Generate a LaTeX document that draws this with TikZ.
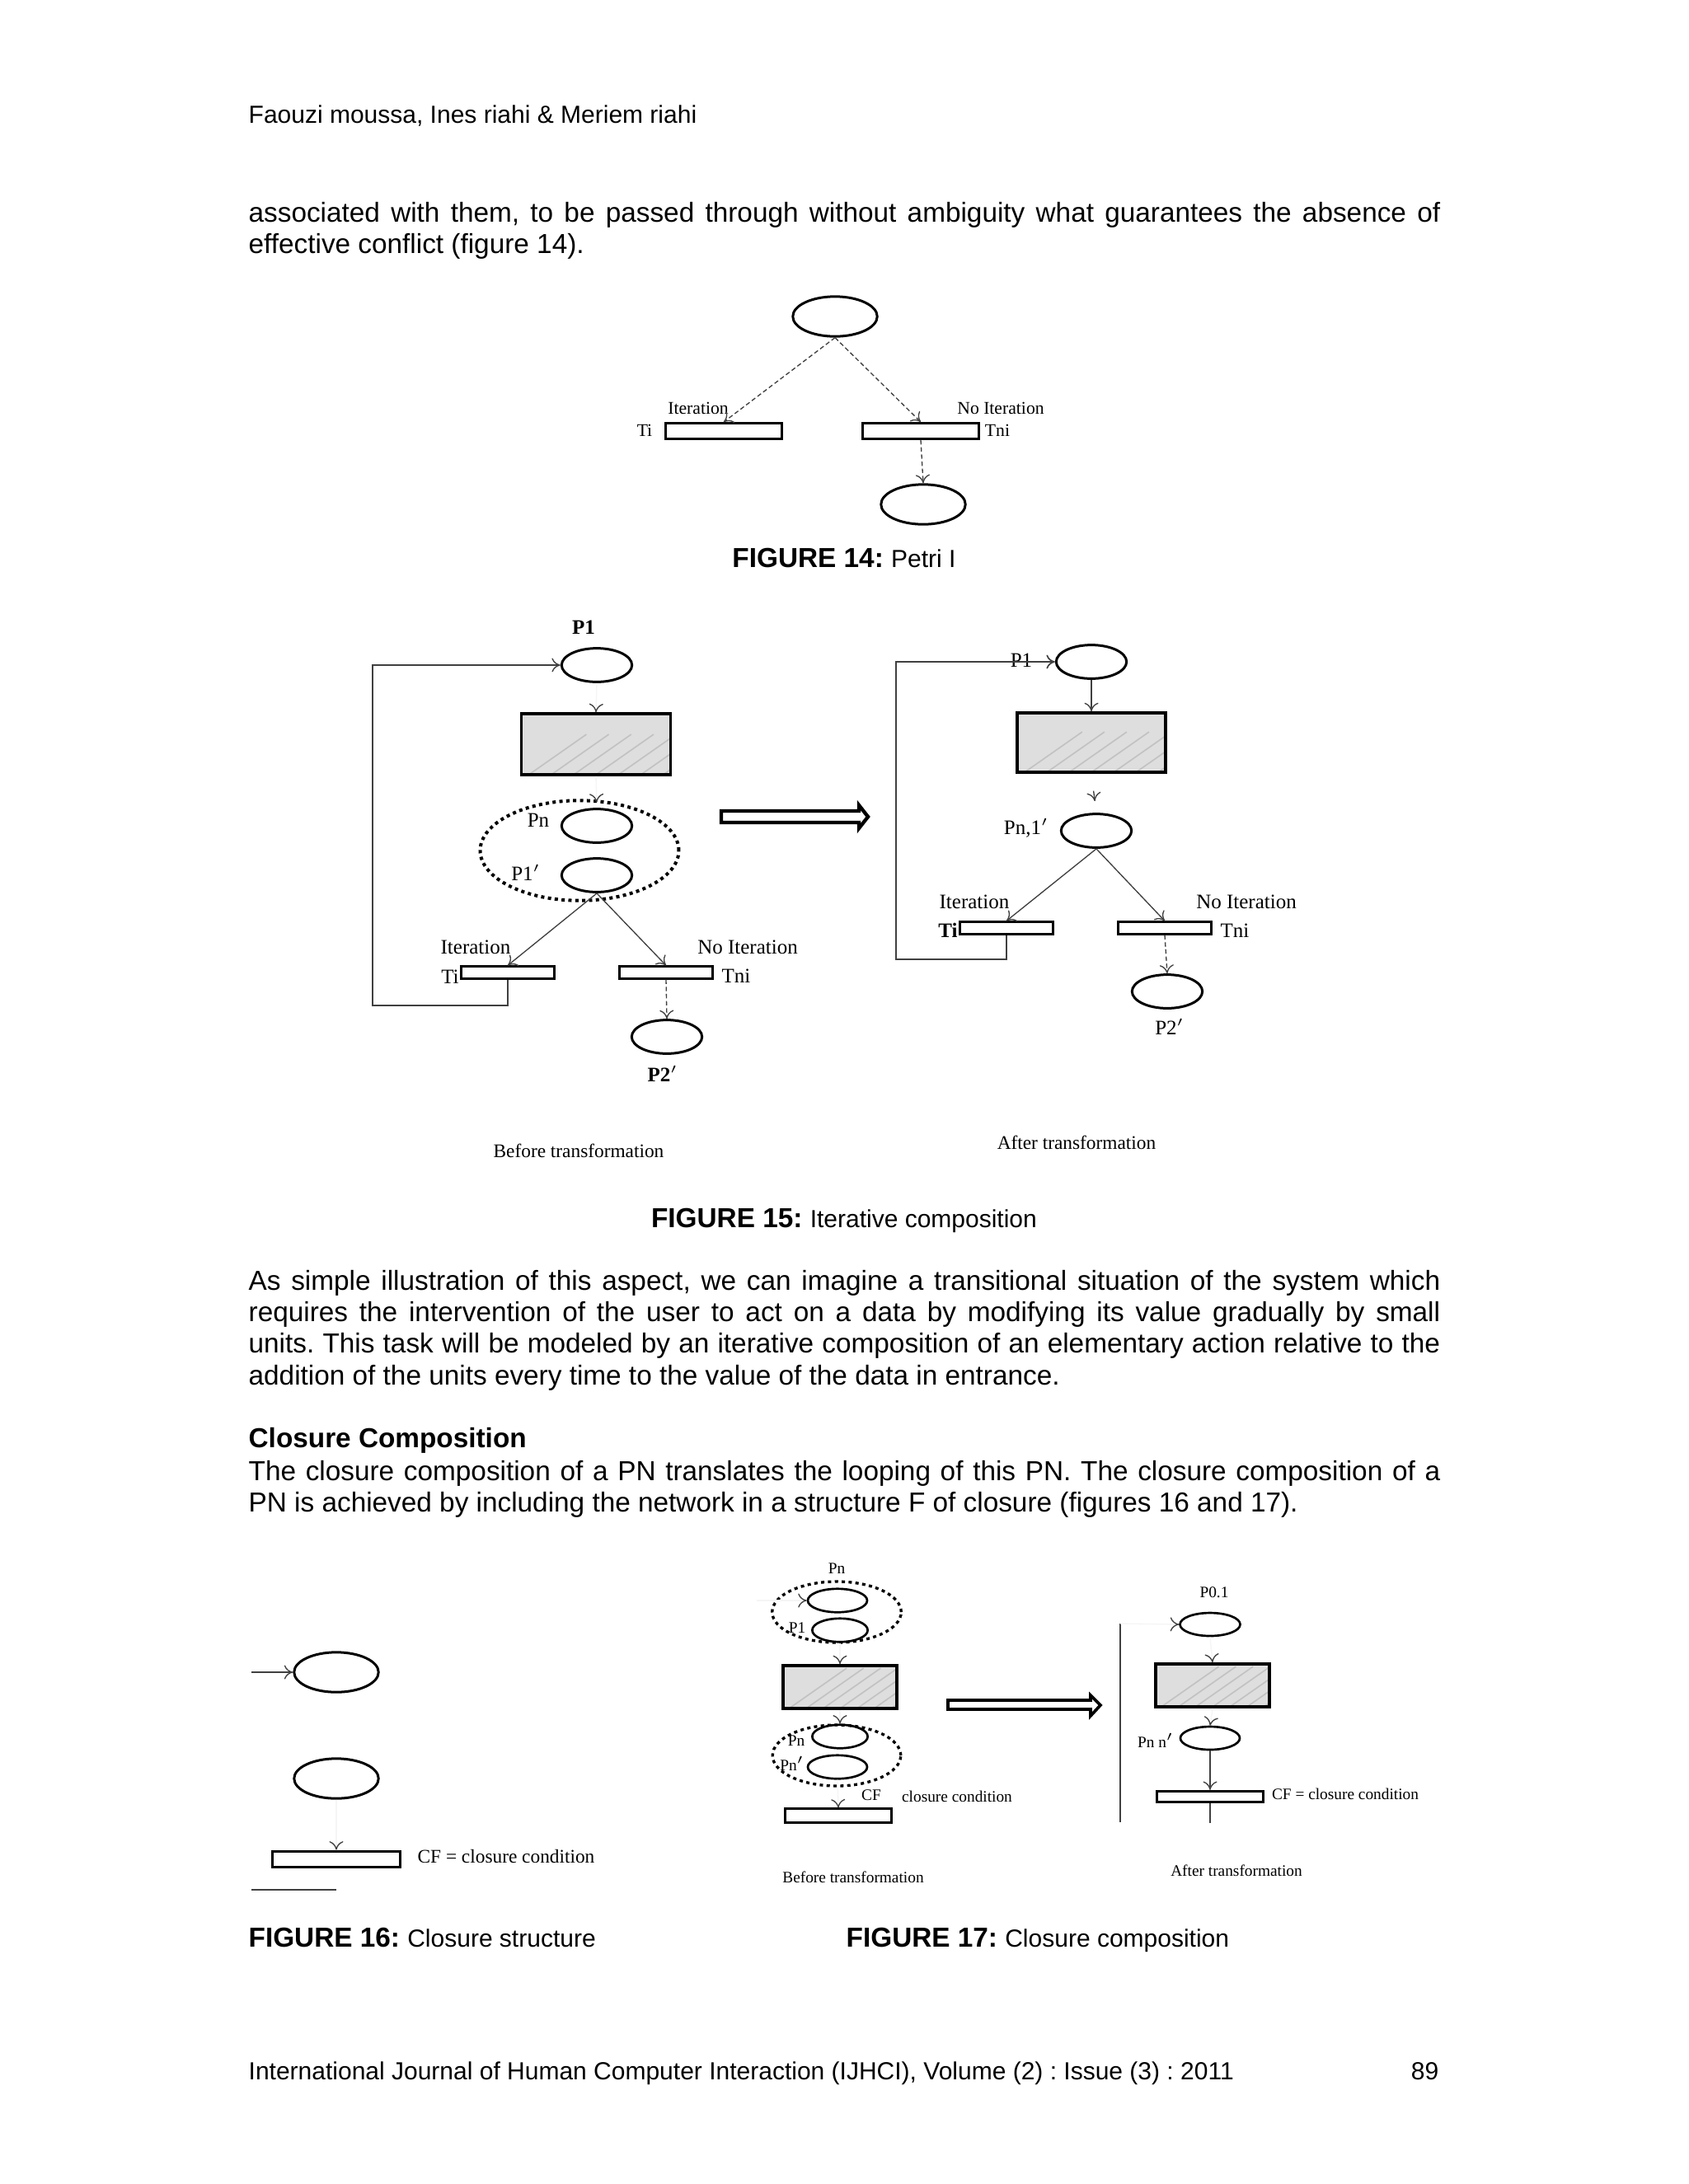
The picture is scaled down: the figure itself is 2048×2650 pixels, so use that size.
\documentclass[tikz,border=0pt]{standalone}
\usepackage{fontspec}
\setmainfont{Liberation Sans}
\newfontfamily\petrifont{Liberation Serif}
\usepackage{tikz}
\usetikzlibrary{arrows.meta,positioning,calc,shapes.geometric}
\frenchspacing
\newcommand{\capdesc}{\fontsize{9}{11}\selectfont}
\tikzset{
  place/.style={draw, ellipse, line width=0.9pt, inner sep=0pt,
                minimum width=9mm, minimum height=4.3mm},
  bigplace/.style={place, minimum width=10.8mm, minimum height=5.1mm},
  smallplace/.style={place, line width=0.8pt, minimum width=7.6mm, minimum height=3mm},
  trans/.style={draw, rectangle, line width=0.9pt, inner sep=0pt, fill=white,
                minimum width=11.9mm, minimum height=1.5mm},
  block/.style={draw, rectangle, line width=1.1pt, inner sep=0pt, fill=black!13,
    path picture={
      \foreach \s in {0.05,0.2,...,0.95}
        \draw[black!24, line width=0.5pt]
          ($(path picture bounding box.south west)!\s!(path picture bounding box.south east)$)
          -- ++(35:9mm);
    }},
  group/.style={draw, ellipse, line width=1.2pt, dash pattern=on 1.2pt off 1.3pt, inner sep=0pt},
  lbl/.style={font=\petrifont\fontsize{7.5}{8}\selectfont, inner sep=0pt},
  smalllbl/.style={lbl, font=\petrifont\fontsize{6.5}{7}\selectfont},
  tinylbl/.style={lbl, font=\petrifont\fontsize{5.8}{6}\selectfont},
  flow/.style={-{To[length=1.1mm,width=1.8mm]}, line width=0.4pt, black!75},
  dflow/.style={flow, dash pattern=on 1.6pt off 1pt},
  ghost/.style={-{To[length=1.1mm,width=1.8mm,color=black!75]}, line width=0.4pt, draw=black!4},
  plain/.style={line width=0.5pt, black!75},
  hollow/.style={line width=1.3pt, fill=white, line join=miter},
  bodytext/.style={anchor=base west, inner sep=0pt, text width=152.4mm, align=justify,
                   font=\fontsize{10}{11.5}\selectfont},
  pagetext/.style={anchor=base west, inner sep=0pt, font=\fontsize{9}{11}\selectfont},
  captext/.style={anchor=base, inner sep=0pt, font=\fontsize{10}{12}\selectfont},
}

\begin{document}
\begin{tikzpicture}[x=0.10542mm, y=-0.10542mm]
  \fill[white] (0,0) rectangle (2048,2650);
  \useasboundingbox (0,0) rectangle (2048,2650);

  % running head and first paragraph
  \node[pagetext] (head) at (301,149) {Faouzi moussa, Ines riahi \& Meriem riahi};
  \node[bodytext] (par1) at (301,269) {associated with them, to be passed through without ambiguity what guarantees the absence of\linebreak effective conflict (figure 14).};

  % figure 14
  \node[bigplace] (f14top) at (1013,384) {};
  \node[trans, minimum width=14.8mm, minimum height=2mm] (f14ti) at (878,523) {};
  \node[trans, minimum width=14.8mm, minimum height=2mm] (f14tni) at (1117,523) {};
  \node[bigplace] (f14end) at (1120,612) {};
  \node[smalllbl] (f14it) at (847,495) {Iteration};
  \node[smalllbl] (f14noit) at (1214,495) {No Iteration};
  \node[smalllbl] (f14tilbl) at (782,522) {Ti};
  \node[smalllbl] (f14tnilbl) at (1210,522) {Tni};
  \draw[dflow] (f14top.south) -- (f14ti.north);
  \draw[dflow] (f14top.south) -- (f14tni.north);
  \draw[dflow] (f14tni.south) -- (f14end.north);
  \node[captext] (cap14) at (1024,688) {\textbf{FIGURE 14:} \capdesc Petri I};

  % figure 15, before
  \node[lbl] (f15p1lbl) at (708,761) {\textbf{P1}};
  \node[place] (f15p1) at (724,807) {};
  \node[block, minimum width=19.1mm, minimum height=7.8mm] (f15blk) at (723,903) {};
  \node[group, minimum width=25.4mm, minimum height=12.8mm] (f15grp) at (703,1032) {};
  \node[place] (f15pn) at (724,1002) {};
  \node[place] (f15p1p) at (724,1062) {};
  \node[lbl] (f15pnlbl) at (653,995) {Pn};
  \node[lbl] (f15p1plbl) at (638,1059) {P1$'$};
  \node[trans] (f15ti) at (616,1180) {};
  \node[trans] (f15tni) at (808,1180) {};
  \node[lbl] (f15it) at (577,1149) {Iteration};
  \node[lbl] (f15noit) at (907,1149) {No Iteration};
  \node[lbl] (f15tilbl) at (546,1185) {Ti};
  \node[lbl] (f15tnilbl) at (893,1184) {Tni};
  \node[place] (f15p2) at (809,1258) {};
  \node[lbl] (f15p2lbl) at (804,1303) {\textbf{P2$'$}};
  \coordinate (f15loop) at (452,1220);
  \draw[ghost] (f15p1.south) -- (f15blk.north);
  \draw[ghost, shorten >=0.7mm] (f15blk.south) -- (f15pn.north);
  \draw[flow] (f15p1p.south) -- (f15ti.north);
  \draw[flow] (f15p1p.south) -- (f15tni.north);
  \draw[dflow] (f15tni.south) -- (f15p2.north);
  \draw[flow] (f15ti.south) |- (f15loop) |- (f15p1.west);
  \node[lbl, font=\petrifont\fontsize{7}{8}\selectfont] (f15before) at (702,1396) {Before transformation};

  % transformation arrow
  \draw[hollow] (875,984) -- (1042,984) -- (1042,977) -- (1053,991) -- (1042,1005) -- (1042,998) -- (875,998) -- cycle;

  % figure 15, after
  \node[lbl] (f15rp1lbl) at (1239,801) {P1};
  \node[place] (f15rp1) at (1324,803) {};
  \node[block, minimum width=19mm, minimum height=7.6mm] (f15rblk) at (1324,901) {};
  \node[place] (f15rpn) at (1330,1008) {};
  \node[lbl] (f15rpnlbl) at (1245,1005) {Pn,1$'$};
  \node[trans] (f15rti) at (1221,1126) {};
  \node[trans] (f15rtni) at (1413,1126) {};
  \node[lbl] (f15rit) at (1182,1094) {Iteration};
  \node[lbl] (f15rnoit) at (1512,1094) {No Iteration};
  \node[lbl] (f15rtilbl) at (1150,1129) {\textbf{Ti}};
  \node[lbl] (f15rtnilbl) at (1498,1129) {Tni};
  \node[place] (f15rp2) at (1416,1203) {};
  \node[lbl] (f15rp2lbl) at (1419,1246) {P2$'$};
  \coordinate (f15rloop) at (1087,1164);
  \draw[flow] (f15rp1.south) -- (f15rblk.north);
  \draw[flow, shorten <=2.2mm, shorten >=1.5mm] (f15rblk.south) -- (f15rpn.north);
  \draw[flow] (f15rpn.south) -- (f15rti.north);
  \draw[flow] (f15rpn.south) -- (f15rtni.north);
  \draw[dflow] (f15rtni.south) -- (f15rp2.north);
  \draw[plain, -{To[length=1.1mm,width=1.8mm]}] (f15rti.south) |- (f15rloop) |- (f15rp1.west);
  \node[lbl, font=\petrifont\fontsize{7}{8}\selectfont] (f15after) at (1306,1386) {After transformation};

  \node[captext] (cap15) at (1024,1489) {\textbf{FIGURE 15:} \capdesc Iterative composition};

  % text between the figures
  \node[bodytext] (par2) at (301,1565) {As simple illustration of this aspect, we can imagine a transitional situation of the system which\linebreak requires the intervention of the user to act on a data by modifying its value gradually by small\linebreak units. This task will be modeled by an iterative composition of an elementary action relative to the\linebreak addition of the units every time to the value of the data in entrance.};
  \node[bodytext] (sect) at (301,1756) {\textbf{Closure Composition}};
  \node[bodytext] (par3) at (301,1796) {The closure composition of a PN translates the looping of this PN. The closure composition of a\linebreak PN is achieved by including the network in a structure F of closure (figures 16 and 17).};

  % figure 16
  \coordinate (f16in) at (305,2029);
  \node[bigplace] (f16p1) at (408,2029) {};
  \node[bigplace] (f16p2) at (408,2158) {};
  \node[trans, minimum width=16.4mm, minimum height=2.1mm] (f16bar) at (408,2256) {};
  \node[lbl, font=\petrifont\fontsize{7}{8}\selectfont] (f16cf) at (614,2252) {CF = closure condition};
  \coordinate (f16outa) at (305,2293);
  \coordinate (f16outb) at (408,2293);
  \draw[flow] (f16in) -- (f16p1.west);
  \draw[ghost] (f16p2.south) -- (f16bar.north);
  \draw[plain] (f16outa) -- (f16outb);

  % figure 17, before
  \node[tinylbl] (f17pnlbl) at (1015,1903) {Pn};
  \node[group, line width=1pt, minimum width=16.5mm, minimum height=7.8mm] (f17grpa) at (1015,1956) {};
  \node[smallplace] (f17pna) at (1016,1942) {};
  \node[smallplace, minimum width=7.1mm] (f17p1a) at (1019,1978) {};
  \node[tinylbl] (f17p1lbl) at (967,1975) {P1};
  \node[block, minimum width=14.5mm, minimum height=5.5mm] (f17blk) at (1019,2047) {};
  \node[group, line width=1pt, minimum width=16.4mm, minimum height=7.8mm] (f17grpb) at (1015,2130) {};
  \node[smallplace, minimum width=7.1mm] (f17pnb) at (1019,2107) {};
  \node[smallplace] (f17pnpb) at (1016,2144) {};
  \node[tinylbl] (f17pnblbl) at (966,2112) {Pn};
  \node[tinylbl] (f17pnplbl) at (961,2140) {Pn$'$};
  \node[trans, minimum width=13.5mm, minimum height=1.7mm] (f17bar) at (1017,2203) {};
  \node[tinylbl] (f17cf) at (1057,2178) {CF};
  \node[tinylbl] (f17cond) at (1161,2180) {closure condition};
  \coordinate (f17in) at (918,1942);
  \draw[ghost] (f17in) -- (f17pna.west);
  \draw[ghost] (f17p1a.south) -- (f17blk.north);
  \draw[ghost] (f17blk.south) -- (f17pnb.north);
  \draw[ghost] (f17pnpb.south) -- (f17bar.north);
  \node[tinylbl] (f17before) at (1035,2278) {Before transformation};

  \draw[hollow, line width=1.1pt] (1150,2063) -- (1323,2063) -- (1323,2057) -- (1335,2069) -- (1323,2082) -- (1323,2074) -- (1150,2074) -- cycle;

  % figure 17, after
  \coordinate (f17vtop) at (1359,1970);
  \coordinate (f17vbot) at (1359,2211);
  \draw[plain] (f17vtop) -- (f17vbot);
  \node[tinylbl] (f17rp0lbl) at (1473,1932) {P0.1};
  \node[smallplace, minimum width=7.7mm, minimum height=2.95mm] (f17rp0) at (1468,1971) {};
  \node[block, minimum width=14.6mm, minimum height=5.5mm] (f17rblk) at (1471,2045) {};
  \node[smallplace, minimum width=7.6mm, minimum height=2.95mm] (f17rpn) at (1468,2109) {};
  \node[tinylbl] (f17rpnlbl) at (1402,2112) {Pn n$'$};
  \node[trans, minimum width=13.6mm, minimum height=1.4mm] (f17rbar) at (1468,2180) {};
  \node[tinylbl] (f17rcf) at (1632,2177) {CF = closure condition};
  \coordinate (f17rout) at (1468,2212);
  \draw[ghost] (f17vtop) -- (f17rp0.west);
  \draw[ghost] (f17rp0.south) -- (f17rblk.north);
  \draw[ghost] (f17rblk.south) -- (f17rpn.north);
  \draw[flow] (f17rpn.south) -- (f17rbar.north);
  \draw[plain] (f17rbar.south) -- (f17rout);
  \node[tinylbl] (f17after) at (1500,2270) {After transformation};

  % captions and footer
  \node[captext, anchor=base west] (cap16) at (301,2362) {\textbf{FIGURE 16:} \capdesc Closure structure};
  \node[captext, anchor=base west] (cap17) at (1026,2362) {\textbf{FIGURE 17:} \capdesc Closure composition};
  \node[pagetext] (foot) at (301,2523) {International Journal of Human Computer Interaction (IJHCI), Volume (2) : Issue (3) : 2011};
  \node[pagetext, anchor=base east] (pageno) at (1746,2523) {89};
\end{tikzpicture}
\end{document}
